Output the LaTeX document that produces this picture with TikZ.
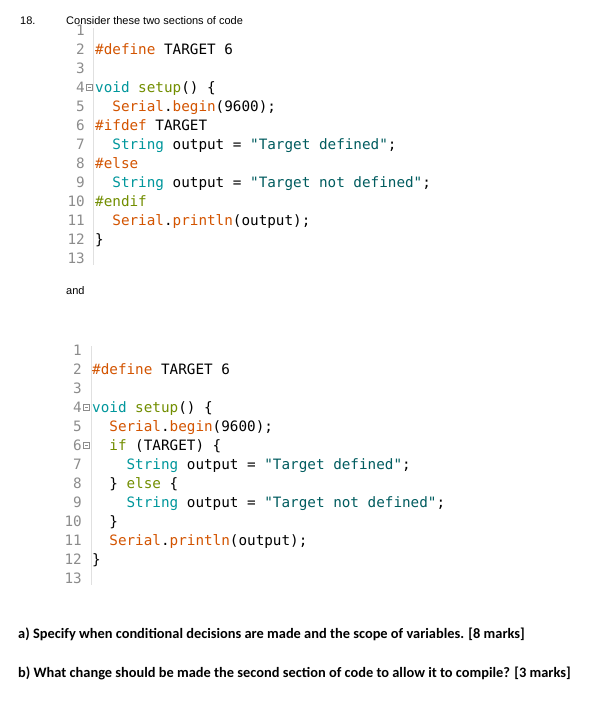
\documentclass[tikz,border=0pt]{standalone}
\usepackage{fontspec}
\setmainfont{Liberation Sans}
\newfontfamily\codef{DejaVu Sans Mono}
\newfontfamily\calf{Carlito}
\definecolor{kor}{HTML}{D35400}
\definecolor{kte}{HTML}{00979C}
\definecolor{kol}{HTML}{728E00}
\definecolor{kst}{HTML}{005C5F}
\definecolor{kln}{HTML}{8C8C8C}
\newcommand{\cOr}[1]{\textcolor{kor}{#1}}
\newcommand{\cTe}[1]{\textcolor{kte}{#1}}
\newcommand{\cOl}[1]{\textcolor{kol}{#1}}
\newcommand{\cSt}[1]{\textcolor{kst}{#1}}
\begin{document}
\begin{tikzpicture}[x=1pt,y=-1pt,
  code/.style={anchor=base west,inner sep=0pt,font=\codef\fontsize{14.3}{15}\selectfont},
  num/.style={anchor=base east,inner sep=0pt,text=kln,font=\codef\fontsize{14.3}{15}\selectfont},
  txt/.style={anchor=base west,inner sep=0pt,font=\fontsize{11}{12}\selectfont},
  q/.style={anchor=base west,inner sep=0pt,font=\calf\bfseries\fontsize{14.4}{15}\selectfont}]
\useasboundingbox[fill=white] (0,0) rectangle (603,726);
\node[txt] (n18) at (20,24) {18.};
\node[txt] (hd) at (66,24) {Consider these two sections of code};
\draw[black!12] (93,28) -- (93,265);
\foreach \i/\y in {1/35,2/54,3/73,4/92,5/111,6/130,7/149,8/168,9/187,10/206,11/225,12/244,13/263}
  \node[num] (a\i) at (85,\y) {\i};
\node[code] (c2) at (95,54) {\cOr{\#define} TARGET 6};
\node[code] (c4) at (95,92) {\cTe{void} \cOl{setup}() \{};
\node[code] (c5) at (95,111) {\ \ \cOr{Serial}.\cOr{begin}(9600);};
\node[code] (c6) at (95,130) {\cOr{\#ifdef} TARGET};
\node[code] (c7) at (95,149) {\ \ \cTe{String} output = \cSt{"Target defined"};};
\node[code] (c8) at (95,168) {\cOr{\#else}};
\node[code] (c9) at (95,187) {\ \ \cTe{String} output = \cSt{"Target not defined"};};
\node[code] (c10) at (95,206) {\cOl{\#endif}};
\node[code] (c11) at (95,225) {\ \ \cOr{Serial}.\cOr{println}(output);};
\node[code] (c12) at (95,244) {\}};
\draw[kln,line width=0.5pt] (86,84.5) rectangle (92,90.5); \draw[kln,line width=0.5pt] (87.5,87.5) -- (90.5,87.5);
\node[txt] (and) at (66,294) {and};
\draw[black!12] (91,346) -- (91,585);
\foreach \i/\y in {1/355,2/374,3/393,4/412,5/431,6/450,7/469,8/488,9/507,10/526,11/545,12/564,13/583}
  \node[num] (b\i) at (82,\y) {\i};
\node[code] (d2) at (92,374) {\cOr{\#define} TARGET 6};
\node[code] (d4) at (92,412) {\cTe{void} \cOl{setup}() \{};
\node[code] (d5) at (92,431) {\ \ \cOr{Serial}.\cOr{begin}(9600);};
\node[code] (d6) at (92,450) {\ \ \cOl{if} (TARGET) \{};
\node[code] (d7) at (92,469) {\ \ \ \ \cTe{String} output = \cSt{"Target defined"};};
\node[code] (d8) at (92,488) {\ \ \} \cOl{else} \{};
\node[code] (d9) at (92,507) {\ \ \ \ \cTe{String} output = \cSt{"Target not defined"};};
\node[code] (d10) at (92,526) {\ \ \}};
\node[code] (d11) at (92,545) {\ \ \cOr{Serial}.\cOr{println}(output);};
\node[code] (d12) at (92,564) {\}};
\foreach \y in {404.5,442.5}{
 \draw[kln,line width=0.5pt] (83.5,\y) rectangle (89.5,\y+6); \draw[kln,line width=0.5pt] (85,\y+3) -- (88,\y+3);}
\node[q] (qa) at (18,638) {a) Specify when conditional decisions are made and the scope of variables. [8 marks]};
\node[q] (qb) at (18,677) {b) What change should be made the second section of code to allow it to compile? [3 marks]};
\end{tikzpicture}
\end{document}
